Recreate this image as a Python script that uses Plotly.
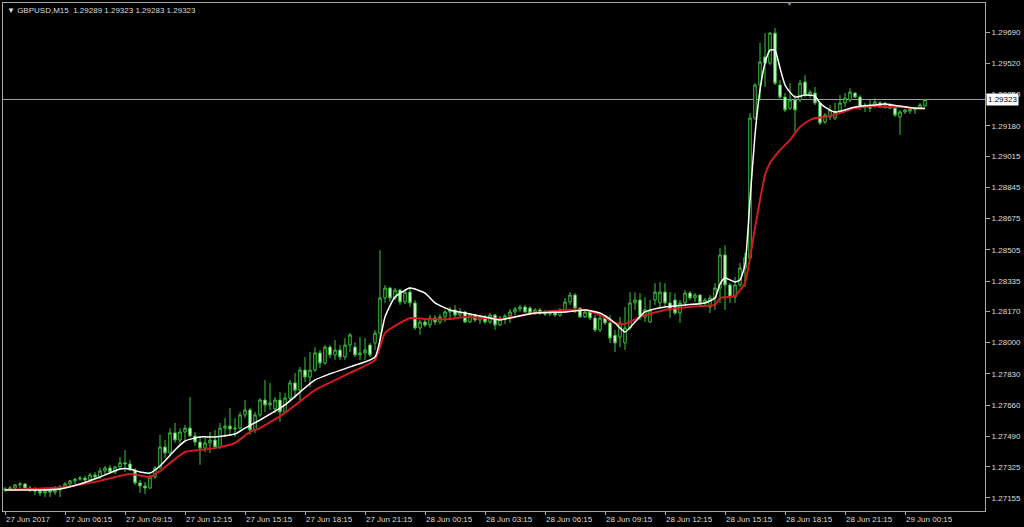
import pandas as pd
import plotly.graph_objects as go

SYMBOL = "GBPUSD,M15"
START = "2017-06-27 03:15"

OPEN = [
    1.27198, 1.27204, 1.27209, 1.27226, 1.27231, 1.27209, 1.27198, 1.27193, 1.27182, 1.27193,
    1.27187, 1.27198, 1.27215, 1.27231, 1.27248, 1.27258, 1.27263, 1.27253, 1.27280, 1.27269,
    1.27302, 1.27318, 1.27296, 1.27324, 1.27346, 1.27340, 1.27307, 1.27237, 1.27220, 1.27209,
    1.27269, 1.27318, 1.27432, 1.27400, 1.27509, 1.27470, 1.27514, 1.27535, 1.27492, 1.27459,
    1.27426, 1.27454, 1.27470, 1.27432, 1.27535, 1.27546, 1.27530, 1.27535, 1.27607, 1.27634,
    1.27525, 1.27607, 1.27688, 1.27661, 1.27640, 1.27688, 1.27623, 1.27699, 1.27781, 1.27742,
    1.27851, 1.27813, 1.27851, 1.27944, 1.27889, 1.27976, 1.27933, 1.27960, 1.27922, 1.27987,
    1.27976, 1.27933, 1.27944, 1.27987, 1.27998, 1.28052, 1.28243, 1.28297, 1.28243, 1.28286,
    1.28221, 1.28275, 1.28216, 1.28080, 1.28112, 1.28096, 1.28134, 1.28112, 1.28140, 1.28167,
    1.28178, 1.28150, 1.28167, 1.28112, 1.28150, 1.28123, 1.28140, 1.28112, 1.28150, 1.28096,
    1.28134, 1.28145, 1.28167, 1.28183, 1.28194, 1.28188, 1.28161, 1.28178, 1.28161, 1.28156,
    1.28167, 1.28150, 1.28178, 1.28221, 1.28259, 1.28188, 1.28140, 1.28167, 1.28134, 1.28069,
    1.28134, 1.28107, 1.28040, 1.28031, 1.27998, 1.28080, 1.28216, 1.28232, 1.28140, 1.28112,
    1.28232, 1.28216, 1.28275, 1.28216, 1.28232, 1.28161, 1.28216, 1.28270, 1.28243, 1.28259,
    1.28216, 1.28194, 1.28243, 1.28297, 1.28477, 1.28314, 1.28248, 1.28314, 1.28406, 1.28461,
    1.29222, 1.29402, 1.29554, 1.29521, 1.29684, 1.29402, 1.29336, 1.29276, 1.29320, 1.29320,
    1.29418, 1.29347, 1.29358, 1.29304, 1.29200, 1.29228, 1.29222, 1.29255, 1.29304, 1.29320,
    1.29358, 1.29336, 1.29282, 1.29293, 1.29287, 1.29304, 1.29287, 1.29293, 1.29276, 1.29228,
    1.29255, 1.29260, 1.29266, 1.29271, 1.29289,
]
HIGH = [
    1.27215, 1.27220, 1.27231, 1.27242, 1.27237, 1.27220, 1.27215, 1.27209, 1.27204, 1.27209,
    1.27220, 1.27226, 1.27242, 1.27253, 1.27263, 1.27274, 1.27274, 1.27291, 1.27296, 1.27318,
    1.27329, 1.27335, 1.27329, 1.27378, 1.27416, 1.27362, 1.27318, 1.27253, 1.27242, 1.27280,
    1.27329, 1.27498, 1.27470, 1.27536, 1.27563, 1.27535, 1.27552, 1.27704, 1.27514, 1.27492,
    1.27481, 1.27514, 1.27525, 1.27563, 1.27590, 1.27644, 1.27590, 1.27623, 1.27688, 1.27644,
    1.27623, 1.27699, 1.27797, 1.27781, 1.27704, 1.27731, 1.27726, 1.27797, 1.27835, 1.27868,
    1.27922, 1.27949, 1.27976, 1.27960, 1.27987, 1.27987, 1.28014, 1.27987, 1.28025, 1.28052,
    1.28003, 1.28031, 1.28025, 1.27998, 1.28069, 1.28504, 1.28314, 1.28303, 1.28297, 1.28292,
    1.28286, 1.28303, 1.28232, 1.28123, 1.28134, 1.28150, 1.28150, 1.28156, 1.28178, 1.28194,
    1.28205, 1.28188, 1.28172, 1.28161, 1.28156, 1.28150, 1.28150, 1.28161, 1.28156, 1.28145,
    1.28156, 1.28183, 1.28194, 1.28205, 1.28205, 1.28199, 1.28188, 1.28188, 1.28178, 1.28178,
    1.28178, 1.28188, 1.28243, 1.28275, 1.28270, 1.28194, 1.28178, 1.28172, 1.28150, 1.28150,
    1.28150, 1.28150, 1.28069, 1.28140, 1.28194, 1.28275, 1.28275, 1.28270, 1.28248, 1.28232,
    1.28324, 1.28330, 1.28324, 1.28275, 1.28270, 1.28232, 1.28286, 1.28281, 1.28270, 1.28264,
    1.28243, 1.28259, 1.28324, 1.28515, 1.28531, 1.28324, 1.28357, 1.28433, 1.28488, 1.29249,
    1.29412, 1.29630, 1.29684, 1.29690, 1.29712, 1.29429, 1.29358, 1.29412, 1.29347, 1.29429,
    1.29456, 1.29374, 1.29391, 1.29309, 1.29249, 1.29293, 1.29304, 1.29347, 1.29358, 1.29385,
    1.29363, 1.29347, 1.29304, 1.29320, 1.29330, 1.29315, 1.29309, 1.29304, 1.29282, 1.29266,
    1.29271, 1.29276, 1.29282, 1.29304, 1.29323,
]
LOW = [
    1.27187, 1.27193, 1.27198, 1.27209, 1.27198, 1.27187, 1.27171, 1.27165, 1.27160, 1.27160,
    1.27171, 1.27160, 1.27204, 1.27215, 1.27231, 1.27248, 1.27237, 1.27242, 1.27258, 1.27258,
    1.27285, 1.27285, 1.27285, 1.27307, 1.27296, 1.27302, 1.27226, 1.27182, 1.27176, 1.27204,
    1.27258, 1.27318, 1.27372, 1.27389, 1.27454, 1.27443, 1.27470, 1.27487, 1.27437, 1.27335,
    1.27405, 1.27400, 1.27421, 1.27421, 1.27487, 1.27498, 1.27487, 1.27525, 1.27590, 1.27498,
    1.27509, 1.27596, 1.27623, 1.27634, 1.27618, 1.27568, 1.27618, 1.27677, 1.27699, 1.27688,
    1.27786, 1.27759, 1.27840, 1.27862, 1.27880, 1.27916, 1.27906, 1.27906, 1.27906, 1.27949,
    1.27922, 1.27906, 1.27906, 1.27922, 1.27960, 1.28014, 1.28216, 1.28221, 1.28232, 1.28205,
    1.28210, 1.28194, 1.28069, 1.28042, 1.28085, 1.28080, 1.28096, 1.28101, 1.28112, 1.28123,
    1.28134, 1.28140, 1.28107, 1.28107, 1.28112, 1.28101, 1.28101, 1.28101, 1.28069, 1.28091,
    1.28101, 1.28107, 1.28150, 1.28167, 1.28161, 1.28150, 1.28150, 1.28150, 1.28145, 1.28145,
    1.28140, 1.28140, 1.28161, 1.28205, 1.28161, 1.28134, 1.28134, 1.28123, 1.28058, 1.28058,
    1.28096, 1.27998, 1.27949, 1.27976, 1.27960, 1.28069, 1.28178, 1.28123, 1.28112, 1.28107,
    1.28205, 1.28188, 1.28194, 1.28134, 1.28150, 1.28107, 1.28205, 1.28232, 1.28221, 1.28205,
    1.28199, 1.28161, 1.28178, 1.28216, 1.28178, 1.28216, 1.28216, 1.28303, 1.28303, 1.28450,
    1.29211, 1.29320, 1.29391, 1.29510, 1.29402, 1.29320, 1.29255, 1.29266, 1.29146, 1.29309,
    1.29336, 1.29330, 1.29293, 1.29184, 1.29190, 1.29211, 1.29211, 1.29249, 1.29282, 1.29309,
    1.29330, 1.29266, 1.29255, 1.29255, 1.29276, 1.29276, 1.29271, 1.29271, 1.29228, 1.29130,
    1.29244, 1.29244, 1.29244, 1.29266, 1.29283,
]
CLOSE = [
    1.27204, 1.27209, 1.27226, 1.27231, 1.27209, 1.27198, 1.27193, 1.27182, 1.27193, 1.27187,
    1.27198, 1.27215, 1.27231, 1.27248, 1.27258, 1.27263, 1.27253, 1.27280, 1.27269, 1.27302,
    1.27318, 1.27296, 1.27324, 1.27346, 1.27340, 1.27307, 1.27237, 1.27220, 1.27209, 1.27269,
    1.27318, 1.27432, 1.27400, 1.27509, 1.27470, 1.27514, 1.27535, 1.27492, 1.27459, 1.27426,
    1.27454, 1.27470, 1.27432, 1.27535, 1.27546, 1.27530, 1.27535, 1.27607, 1.27634, 1.27525,
    1.27607, 1.27688, 1.27661, 1.27672, 1.27688, 1.27623, 1.27699, 1.27781, 1.27742, 1.27851,
    1.27813, 1.27851, 1.27944, 1.27889, 1.27976, 1.27933, 1.27960, 1.27922, 1.27987, 1.28042,
    1.27933, 1.27944, 1.27960, 1.27933, 1.28052, 1.28243, 1.28297, 1.28243, 1.28286, 1.28221,
    1.28275, 1.28216, 1.28080, 1.28112, 1.28096, 1.28134, 1.28112, 1.28140, 1.28167, 1.28178,
    1.28150, 1.28167, 1.28112, 1.28150, 1.28123, 1.28140, 1.28112, 1.28150, 1.28096, 1.28134,
    1.28145, 1.28167, 1.28183, 1.28194, 1.28167, 1.28161, 1.28178, 1.28161, 1.28156, 1.28167,
    1.28150, 1.28178, 1.28221, 1.28259, 1.28188, 1.28140, 1.28167, 1.28134, 1.28069, 1.28134,
    1.28107, 1.28025, 1.27998, 1.28107, 1.28080, 1.28216, 1.28232, 1.28140, 1.28178, 1.28178,
    1.28275, 1.28275, 1.28216, 1.28178, 1.28161, 1.28216, 1.28270, 1.28243, 1.28259, 1.28216,
    1.28232, 1.28243, 1.28297, 1.28477, 1.28314, 1.28248, 1.28314, 1.28406, 1.28461, 1.29222,
    1.29402, 1.29527, 1.29521, 1.29684, 1.29412, 1.29336, 1.29266, 1.29320, 1.29266, 1.29412,
    1.29347, 1.29363, 1.29304, 1.29195, 1.29238, 1.29266, 1.29255, 1.29304, 1.29330, 1.29363,
    1.29336, 1.29282, 1.29293, 1.29276, 1.29309, 1.29282, 1.29304, 1.29276, 1.29238, 1.29255,
    1.29266, 1.29271, 1.29276, 1.29293, 1.29323,
]

# fast (white) and slow (red) moving averages, read at these bar numbers
WHITE_MA_BAR = [0, 7, 11, 15, 19, 23, 25, 27, 29, 31, 34, 36, 39, 42, 46, 48, 51, 56, 62, 69,
                74, 76, 78, 81, 84, 86, 89, 92, 96, 99, 101, 106, 112, 116, 119, 122, 124, 126,
                128, 132, 136, 140, 142, 143, 144, 146, 147, 148, 149, 150, 151, 152, 153, 154,
                155, 156, 157, 158, 160, 162, 163, 164, 166, 168, 170, 174, 176, 179, 182, 184]
WHITE_MA = [1.27198, 1.27198, 1.27204, 1.27231, 1.27269, 1.27313, 1.27313, 1.27296, 1.27291,
            1.27329, 1.27416, 1.27465, 1.27487, 1.27487, 1.27503, 1.27535, 1.27579, 1.27661,
            1.27797, 1.27868, 1.27922, 1.28140, 1.28248, 1.28297, 1.28270, 1.28216, 1.28178,
            1.28161, 1.28140, 1.28123, 1.28134, 1.28161, 1.28167, 1.28178, 1.28161, 1.28107,
            1.28058, 1.28112, 1.28167, 1.28194, 1.28205, 1.28216, 1.28243, 1.28319, 1.28352,
            1.28330, 1.28341, 1.28423, 1.28776, 1.29130, 1.29374, 1.29521, 1.29592, 1.29592,
            1.29494, 1.29402, 1.29363, 1.29336, 1.29347, 1.29341, 1.29304, 1.29282, 1.29255,
            1.29266, 1.29282, 1.29293, 1.29298, 1.29287, 1.29276, 1.29276]
RED_MA_BAR = [0, 12, 19, 25, 29, 31, 36, 39, 42, 46, 49, 51, 56, 62, 69, 74, 76, 79, 81, 84,
              89, 92, 96, 99, 106, 112, 116, 119, 122, 124, 127, 132, 139, 142, 143, 146, 147,
              148, 149, 150, 151, 152, 153, 154, 155, 156, 157, 158, 159, 160, 161, 162, 164,
              167, 170, 174, 176, 179, 182, 184]
RED_MA = [1.27198, 1.27215, 1.27248, 1.27285, 1.27269, 1.27302, 1.27405, 1.27416, 1.27426,
          1.27454, 1.27514, 1.27535, 1.27618, 1.27742, 1.27835, 1.27906, 1.28052, 1.28107,
          1.28134, 1.28129, 1.28129, 1.28140, 1.28134, 1.28129, 1.28161, 1.28178, 1.28178,
          1.28150, 1.28107, 1.28101, 1.28140, 1.28178, 1.28199, 1.28205, 1.28243, 1.28253,
          1.28286, 1.28324, 1.28461, 1.28624, 1.28776, 1.28912, 1.28977, 1.29015, 1.29048,
          1.29075, 1.29102, 1.29140, 1.29173, 1.29195, 1.29211, 1.29222, 1.29228, 1.29249,
          1.29276, 1.29287, 1.29282, 1.29282, 1.29276, 1.29271]

PRICE_TICKS = [1.27155, 1.27325, 1.27490, 1.27660, 1.27830, 1.28000, 1.28170, 1.28335,
               1.28505, 1.28675, 1.28845, 1.29015, 1.29180, 1.29350, 1.29520, 1.29690]
TIME_TICK_LABELS = ["27 Jun 2017", "27 Jun 06:15", "27 Jun 09:15", "27 Jun 12:15",
                    "27 Jun 15:15", "27 Jun 18:15", "27 Jun 21:15", "28 Jun 00:15",
                    "28 Jun 03:15", "28 Jun 06:15", "28 Jun 09:15", "28 Jun 12:15",
                    "28 Jun 15:15", "28 Jun 18:15", "28 Jun 21:15", "29 Jun 00:15"]
Y_RANGE = [1.27084, 1.29848]

GREEN = "#3cc43c"
FRAME = "#a8a8a8"
TXT = "#dcdcdc"
FONT = "Liberation Sans, Arial, sans-serif"

times = pd.date_range(START, periods=len(CLOSE), freq="15min")
step = pd.Timedelta(minutes=15)

fig = go.Figure()
fig.add_trace(go.Candlestick(
    x=times, open=OPEN, high=HIGH, low=LOW, close=CLOSE,
    increasing=dict(line=dict(color=GREEN, width=1), fillcolor="#000000"),
    decreasing=dict(line=dict(color=GREEN, width=1), fillcolor="#f4fff4"),
    whiskerwidth=0, showlegend=False, hoverinfo="skip"))
fig.add_trace(go.Scatter(
    x=[times[i] for i in RED_MA_BAR], y=RED_MA, mode="lines",
    line=dict(color="#d01c1c", width=2, shape="spline", smoothing=0.5),
    showlegend=False, hoverinfo="skip"))
fig.add_trace(go.Scatter(
    x=[times[i] for i in WHITE_MA_BAR], y=WHITE_MA, mode="lines",
    line=dict(color="#ffffff", width=1.5, shape="spline", smoothing=0.5),
    showlegend=False, hoverinfo="skip"))

last = CLOSE[-1]
fig.add_shape(type="line", xref="paper", x0=0, x1=1, yref="y", y0=last, y1=last,
              line=dict(color="#a0a0a0", width=1), layer="below")

fig.add_annotation(xref="paper", yref="y", x=1, y=last, xanchor="left", yanchor="middle",
                   xshift=1, text=f"{last:.5f}", showarrow=False,
                   bgcolor="#ffffff", borderpad=1,
                   font=dict(family=FONT, size=8, color="#000000"))
o, h, l, c = OPEN[-1], HIGH[-1], LOW[-1], CLOSE[-1]
fig.add_annotation(xref="paper", yref="paper", x=0.002, y=0.998, xanchor="left", yanchor="top",
                   text=f"▼ {SYMBOL}  {o:.5f} {h:.5f} {l:.5f} {c:.5f}", showarrow=False,
                   font=dict(family=FONT, size=8, color=TXT))
fig.add_annotation(xref="paper", yref="paper", x=0.801, y=1.0, xanchor="center", yanchor="middle",
                   text="▼", showarrow=False, font=dict(family=FONT, size=7, color="#8a9aaa"))

fig.update_layout(
    width=1024, height=527, margin=dict(l=3, r=39, t=3, b=16),
    paper_bgcolor="#000000", plot_bgcolor="#000000", showlegend=False,
    xaxis=dict(type="date", range=[times[0] - 0.4 * step, times[0] + 196 * step],
               rangeslider=dict(visible=False), showgrid=False, zeroline=False,
               showline=True, linecolor=FRAME, linewidth=1, mirror=True,
               ticks="outside", ticklen=3, tickcolor=FRAME,
               tickvals=list(times[::12]), ticktext=TIME_TICK_LABELS,
               ticklabelposition="outside right",
               tickfont=dict(family=FONT, size=8, color=TXT)),
    yaxis=dict(side="right", range=Y_RANGE, showgrid=False, zeroline=False,
               showline=True, linecolor=FRAME, linewidth=1, mirror=True,
               ticks="outside", ticklen=4, tickcolor=FRAME,
               tickvals=PRICE_TICKS, ticktext=[f"{v:.5f}" for v in PRICE_TICKS],
               tickfont=dict(family=FONT, size=8, color=TXT)),
)

fig.write_html("out.html", config={"displayModeBar": False},
               post_script="document.body.style.margin='0';document.body.style.overflow='hidden';")
